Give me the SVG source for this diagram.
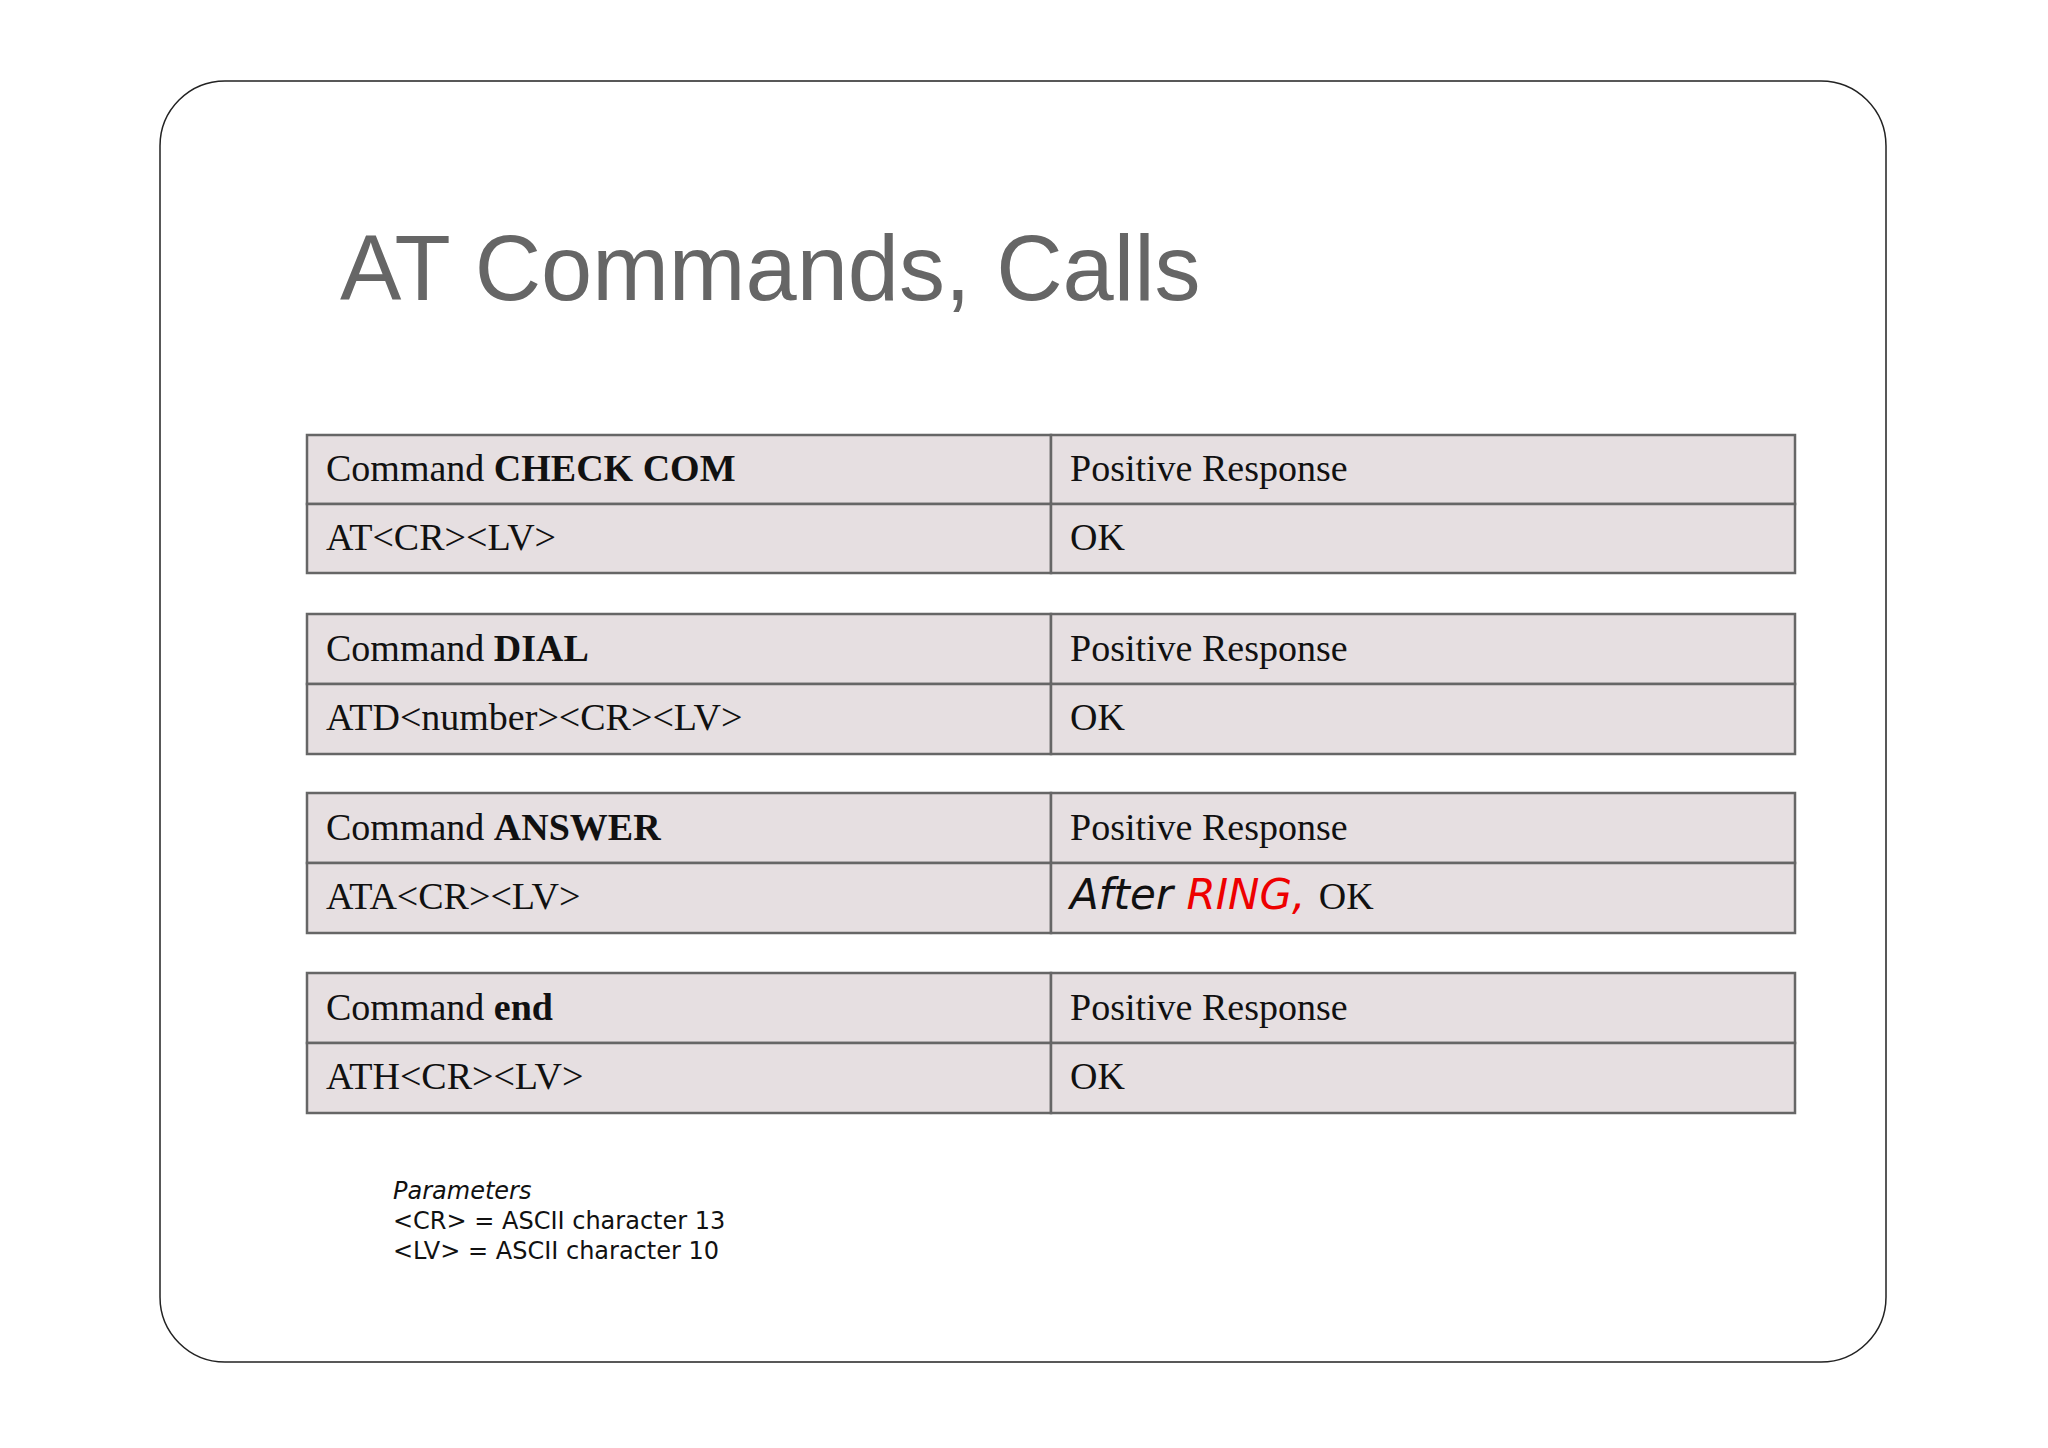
<svg xmlns="http://www.w3.org/2000/svg" width="2048" height="1448" viewBox="0 0 2048 1448">
<style>
.cell{fill:#e6dfe1;stroke:#666;stroke-width:2.5}
.t{font-family:"Liberation Serif",serif;font-size:38px;fill:#111}
.p{font-family:"DejaVu Sans",sans-serif;font-size:24px;fill:#111}
</style>
<rect width="2048" height="1448" fill="#fff"/>
<rect x="160" y="81" width="1726" height="1281" rx="65" fill="#fff" stroke="#222" stroke-width="1.5"/>
<text x="340" y="300" font-family="Liberation Sans, sans-serif" font-size="92" fill="#666">AT Commands, Calls</text>
<g id="table1">
<rect class="cell" x="307" y="435" width="744" height="69"/><rect class="cell" x="1051" y="435" width="744" height="69"/>
<rect class="cell" x="307" y="504" width="744" height="69"/><rect class="cell" x="1051" y="504" width="744" height="69"/>
<text class="t" x="326" y="481">Command <tspan font-weight="bold">CHECK COM</tspan></text>
<text class="t" x="1070" y="481">Positive Response</text>
<text class="t" x="326" y="550">AT&lt;CR&gt;&lt;LV&gt;</text>
<text class="t" x="1070" y="550">OK</text>
</g>
<g id="table2">
<rect class="cell" x="307" y="614" width="744" height="70"/><rect class="cell" x="1051" y="614" width="744" height="70"/>
<rect class="cell" x="307" y="684" width="744" height="70"/><rect class="cell" x="1051" y="684" width="744" height="70"/>
<text class="t" x="326" y="661">Command <tspan font-weight="bold">DIAL</tspan></text>
<text class="t" x="1070" y="661">Positive Response</text>
<text class="t" x="326" y="730">ATD&lt;number&gt;&lt;CR&gt;&lt;LV&gt;</text>
<text class="t" x="1070" y="730">OK</text>
</g>
<g id="table3">
<rect class="cell" x="307" y="793" width="744" height="70"/><rect class="cell" x="1051" y="793" width="744" height="70"/>
<rect class="cell" x="307" y="863" width="744" height="70"/><rect class="cell" x="1051" y="863" width="744" height="70"/>
<text class="t" x="326" y="840">Command <tspan font-weight="bold">ANSWER</tspan></text>
<text class="t" x="1070" y="840">Positive Response</text>
<text class="t" x="326" y="909">ATA&lt;CR&gt;&lt;LV&gt;</text>
<text x="1070" y="909" font-family="DejaVu Sans, sans-serif" font-size="42" font-style="italic" fill="#111">After <tspan fill="#e00">RING,</tspan> <tspan class="t" font-style="normal" font-family="Liberation Serif, serif" font-size="38">OK</tspan></text>
</g>
<g id="table4">
<rect class="cell" x="307" y="973" width="744" height="70"/><rect class="cell" x="1051" y="973" width="744" height="70"/>
<rect class="cell" x="307" y="1043" width="744" height="70"/><rect class="cell" x="1051" y="1043" width="744" height="70"/>
<text class="t" x="326" y="1020">Command <tspan font-weight="bold">end</tspan></text>
<text class="t" x="1070" y="1020">Positive Response</text>
<text class="t" x="326" y="1089">ATH&lt;CR&gt;&lt;LV&gt;</text>
<text class="t" x="1070" y="1089">OK</text>
</g>
<text class="p" x="393" y="1199" font-style="italic">Parameters</text>
<text class="p" x="393" y="1229">&lt;CR&gt; = ASCII character 13</text>
<text class="p" x="393" y="1259">&lt;LV&gt; = ASCII character 10</text>
</svg>
